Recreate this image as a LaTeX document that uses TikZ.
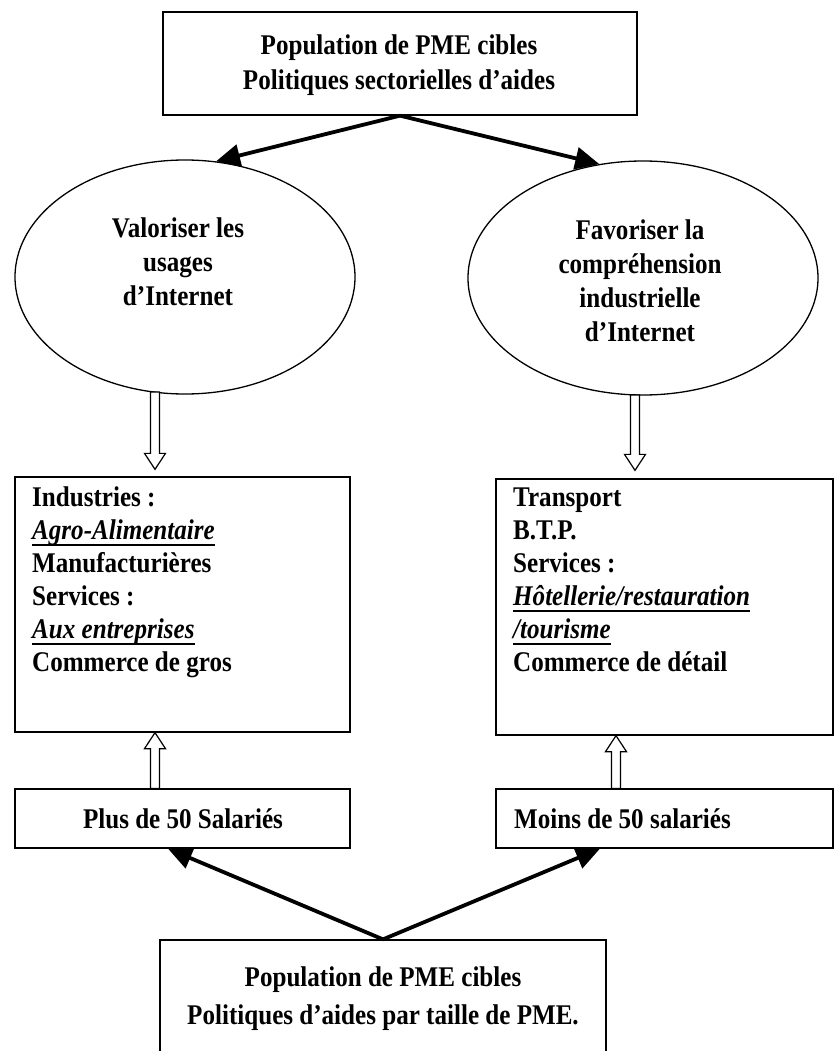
\documentclass[tikz,border=0pt]{standalone}
\usepackage{fontspec}
\setmainfont{Liberation Serif}[FakeStretch=0.88]
\usetikzlibrary{calc,arrows.meta,shapes.geometric}
\newcommand{\myul}[1]{\setbox0\hbox{\textit{#1}}\usebox0\llap{\rule[-6pt]{\wd0}{1.6pt}}}
\newcommand{\hollowarr}[2]{%
  \path ($(#2)!16pt!(#1)$) coordinate (hh);
  \draw[hollow] ($(#1)!4.5pt!90:(#2)$) -- ($(hh)!4.5pt!90:(#2)$) -- ($(hh)!10.5pt!90:(#2)$) -- (#2)
     -- ($(hh)!10.5pt!-90:(#2)$) -- ($(hh)!4.5pt!-90:(#2)$) -- ($(#1)!4.5pt!-90:(#2)$) -- cycle;}
\tikzset{
  box/.style={draw, line width=1.3pt, inner sep=0pt},
  ell/.style={draw, ellipse, line width=1.3pt, inner sep=0pt},
  hollow/.style={draw, line width=1.2pt, fill=white, line join=miter},
  bigarrow/.style={line width=3.8pt, -{Triangle[length=24pt,width=22pt]}},
  txt/.style={font=\bfseries\fontsize{28.5}{#1}\selectfont, inner sep=0pt},
  txt/.default=33,
}
\begin{document}
\begin{tikzpicture}[x=1pt,y=-1pt]
\useasboundingbox (0,0) rectangle (834,1051);
% top box
\node[box, minimum width=474, minimum height=103] (top) at (400,63.5) {};
\node[txt=35, align=center, anchor=north] (toptxt) at (399,35) {Population de PME cibles\\Politiques sectorielles d'aides};
% ellipses
\node[ell, minimum width=340, minimum height=234] (lell) at (185,277) {};
\node[txt=34, align=center, anchor=north] (lelltxt) at (178,218) {Valoriser les\\usages\\d'Internet};
\node[ell, minimum width=350, minimum height=234] (rell) at (643,278) {};
\node[txt=34, align=center, anchor=north] (relltxt) at (640,220) {Favoriser la\\compréhension\\industrielle\\d'Internet};
\draw[bigarrow] (top.south) -- (lell.75);
\draw[bigarrow] (top.south) -- (rell.111);
% middle boxes
\node[box, minimum width=335, minimum height=255] (lbox) at (182.5,604.5) {};
\node[txt, align=left, anchor=north west] (lboxtxt) at (32,487) {Industries :\\\myul{Agro-Alimentaire}\\Manufacturières\\Services :\\\myul{Aux entreprises}\\Commerce de gros};
\node[box, minimum width=337, minimum height=256] (rbox) at (664.5,607) {};
\node[txt, align=left, anchor=north west] (rboxtxt) at (513,488) {Transport\\B.T.P.\\Services :\\\myul{Hôtellerie/restauration}\\\myul{/tourisme}\\Commerce de détail};
% hollow arrows down
\coordinate (h1s) at (155,392);
\coordinate (h1e) at (155,0 |- lbox.north);
\coordinate (h1e) at ($(h1e)+(0,-7)$);
\hollowarr{h1s}{h1e}
\coordinate (h2s) at (635,395);
\coordinate (h2e) at (635,0 |- rbox.north);
\coordinate (h2e) at ($(h2e)+(0,-8)$);
\hollowarr{h2s}{h2e}
% size boxes
\node[box, minimum width=335, minimum height=59] (pbox) at (182.5,818.5) {};
\node[txt, anchor=base] (pboxtxt) at (183,828) {Plus de 50 Salariés};
\node[box, minimum width=337, minimum height=59] (mbox) at (664.5,818.5) {};
\node[txt, anchor=base west] (mboxtxt) at (514,828) {Moins de 50 salariés};
% hollow arrows up
\coordinate (h3s) at (155,0 |- pbox.north);
\coordinate (h3e) at (155,0 |- lbox.south);
\hollowarr{h3s}{h3e}
\coordinate (h4s) at (616,0 |- mbox.north);
\coordinate (h4e) at (616,0 |- rbox.south);
\hollowarr{h4s}{h4e}
% bottom box
\node[box, minimum width=446, minimum height=122] (bbox) at (383,1001) {};
\node[txt=38, align=center, anchor=north] (bboxtxt) at (383,967) {Population de PME cibles\\Politiques d'aides par taille de PME.};
\coordinate (t1) at (168,0 |- pbox.south);
\coordinate (t2) at (600,0 |- mbox.south);
\draw[bigarrow] (bbox.north) -- (t1);
\draw[bigarrow] (bbox.north) -- (t2);
\end{tikzpicture}
\end{document}
